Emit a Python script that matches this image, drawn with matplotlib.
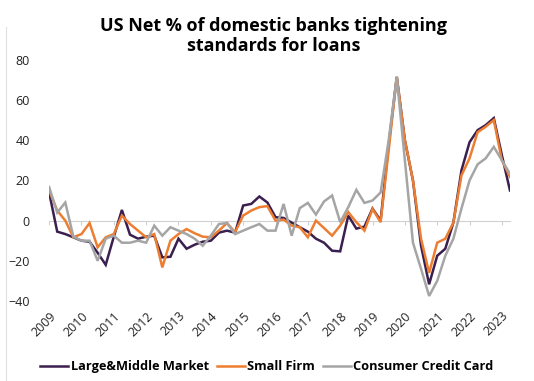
import matplotlib.pyplot as plt
from matplotlib.lines import Line2D

# quarterly, 2009Q1 .. 2023Q2
years = [str(y) for y in range(2009, 2024)]
large_middle = [14, -5.5, -6.7, -8.3, -10, -10.5, -16, -22, -8, 5.3,
                -7, -9, -8, -7.5, -18.3, -18, -9, -14, -12, -10.5,
                -10, -6, -5, -6, 7.5, 8.3, 12, 9, 1.7, 1.3,
                -1, -3.3, -5.5, -9, -11, -15, -15.3, 2.5, -4, -3,
                6, 0, 38, 71.5, 40, 20, -12.5, -31.7, -17.5, -14,
                -1, 25, 39, 45, 47.5, 51, 32.5, 15]
small_firm = [15, 5, 0, -8.3, -6.7, -1.2, -13.3, -8.3, -6.7, 2.5,
              -1.7, -5, -8.3, -6.7, -23.3, -10, -6.7, -4.2, -6.3, -8,
              -8.3, -5, -1.2, -5.8, 2.5, 5, 6.7, 7.2, 0, 0.5,
              -2.5, -3.3, -8.3, 0, -3.7, -7.5, -2.5, 4.2, -0.8, -5,
              5.8, -0.8, 35, 71.5, 40, 20, -9, -26, -11, -9,
              -1, 22.5, 31, 44, 46.7, 50, 30, 21.7]
credit_card = [16.7, 4, 9, -8, -10, -10, -20, -9, -7.5, -11,
               -11, -10, -11, -2.5, -7.5, -3.3, -5, -6.7, -9, -12.5,
               -7.5, -1.7, -1.2, -6.7, -5, -3.3, -1.7, -5, -5, 8.3,
               -7.5, 6.2, 8.8, 3, 9.5, 12.5, -0.8, 6.7, 15.3, 8.8,
               10, 14, 40, 71.5, 30, -11, -24, -37.5, -30, -17.5,
               -9, 6, 20, 28, 31, 36.7, 30, 23.3]

colors = ['#3A1F4F', '#ED7D31', '#A5A5A5']
names = ['Large&Middle Market', 'Small Firm', 'Consumer Credit Card']

plt.rcParams['font.family'] = ['Open Sans', 'DejaVu Sans']

fig = plt.figure(figsize=(5.34, 3.81), dpi=100)
ax = fig.add_axes([0.092, 0.21, 0.863, 0.633])

x = list(range(len(large_middle)))
for series, c, n in zip([large_middle, small_firm, credit_card], colors, names):
    ax.plot(x, series, color=c, lw=1.8, label=n, solid_joinstyle='miter')

ax.set_xlim(0, len(large_middle) - 1)
ax.set_ylim(-40, 80)
ax.set_yticks(range(-40, 81, 20))
ax.set_xticks(range(0, len(large_middle), 4))
ax.set_xticklabels(years, rotation=45, ha='right', rotation_mode='anchor')
ax.tick_params(axis='x', length=0, pad=6, labelsize=9, colors='#222222')
ax.tick_params(axis='y', length=0, pad=14, labelsize=9, colors='#222222')
for s in ax.spines.values():
    s.set_visible(False)

# zero line with small tick marks
sec = ax.secondary_xaxis(40 / 120)
sec.spines['bottom'].set_color('#D0D0D0')
sec.spines['bottom'].set_linewidth(0.8)
sec.set_xticks(range(0, len(large_middle), 4))
sec.tick_params(axis='x', length=3, color='#D0D0D0', labelbottom=False)
sec.set_zorder(0)

fig.suptitle('US Net % of domestic banks tightening\nstandards for loans',
             x=0.512, y=0.955, fontsize=13, fontweight='bold', linespacing=1.15)

leg = fig.legend(loc='center', bbox_to_anchor=(0.5, 0.038), ncol=3, frameon=False,
                 prop={'weight': 'bold', 'size': 9.2}, handlelength=2.2,
                 handletextpad=0.2, columnspacing=0.6)

fig.add_artist(Line2D([0.011, 0.011], [0.0, 0.93], color='#E0E0E0', lw=0.8))

fig.savefig('out.png', dpi=100)
